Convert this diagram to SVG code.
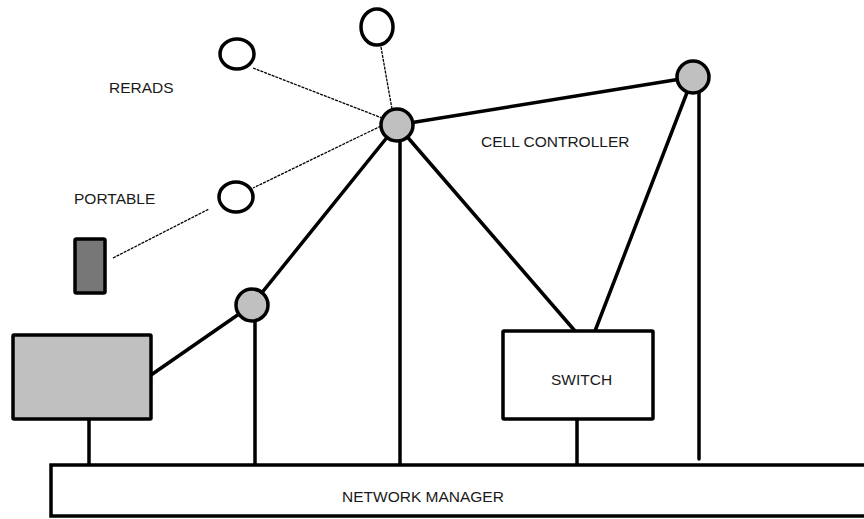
<svg xmlns="http://www.w3.org/2000/svg" width="864" height="519" viewBox="0 0 864 519">
  <style>
    .lbl { font-family: "Liberation Sans", Arial, sans-serif; font-size: 15.5px; fill: #1a1a1a; }
    .link { stroke: #000; stroke-width: 3.5; fill: none; stroke-linecap: round; }
    .radio { stroke: #000; stroke-width: 1.3; fill: none; stroke-dasharray: 3 1; }
    .node { stroke: #000; stroke-width: 3.5; }
    .hub { fill: #c0c0c0; stroke: #000; stroke-width: 3.5; }
    .rerad { fill: #fff; stroke: #000; stroke-width: 3.5; }
  </style>
  <rect width="864" height="519" fill="#fff"/>

  <!-- connectors -->
  <g id="connectors">
    <line class="radio" x1="253" y1="68" x2="382" y2="118"/>
    <line class="radio" x1="381" y1="47" x2="392" y2="109"/>
    <line class="radio" x1="381" y1="126" x2="253" y2="188"/>
    <line class="radio" x1="113" y1="258" x2="209" y2="209"/>
    <line class="link" x1="397" y1="125" x2="693" y2="77"/>
    <line class="link" x1="397" y1="125" x2="252" y2="305"/>
    <line class="link" x1="400" y1="141" x2="400" y2="465"/>
    <line class="link" x1="397" y1="125" x2="575" y2="331"/>
    <line class="link" x1="693" y1="77" x2="595" y2="331"/>
    <line class="link" x1="699" y1="92" x2="699" y2="459"/>
    <line class="link" x1="252" y1="305" x2="151" y2="375"/>
    <line class="link" x1="255" y1="320" x2="255" y2="465"/>
    <line class="link" x1="89" y1="419" x2="89" y2="465"/>
    <line class="link" x1="577" y1="419" x2="577" y2="465"/>
  </g>

  <!-- network manager bus -->
  <g id="network-manager">
    <rect x="51" y="465" width="830" height="51" fill="#fff" class="node"/>
    <text class="lbl" x="342" y="502">NETWORK MANAGER</text>
  </g>

  <g id="host">
    <rect x="13" y="335" width="138" height="84" fill="#c0c0c0" class="node" rx="1"/>
  </g>

  <g id="switch">
    <rect x="503" y="331" width="150" height="88" fill="#fff" class="node" rx="1"/>
    <text class="lbl" x="551" y="385">SWITCH</text>
  </g>

  <g id="portable">
    <rect x="75" y="239" width="30" height="54" fill="#777" class="node" rx="1.5"/>
    <text class="lbl" x="74" y="204">PORTABLE</text>
  </g>

  <g id="rerad-1"><ellipse class="rerad" cx="237" cy="54" rx="17" ry="15"/></g>
  <g id="rerad-2"><ellipse class="rerad" cx="377" cy="27" rx="16" ry="18"/></g>
  <g id="rerad-3"><ellipse class="rerad" cx="236" cy="197" rx="17" ry="15"/></g>
  <g id="rerads-label"><text class="lbl" x="109" y="93">RERADS</text></g>

  <g id="cell-controller-hub"><circle class="hub" cx="397" cy="125" r="16"/></g>
  <g id="cell-controller-label"><text class="lbl" x="481" y="147">CELL CONTROLLER</text></g>
  <g id="cell-controller-right"><circle class="hub" cx="693" cy="77" r="16"/></g>
  <g id="cell-controller-left"><circle class="hub" cx="252" cy="305" r="16"/></g>
</svg>
